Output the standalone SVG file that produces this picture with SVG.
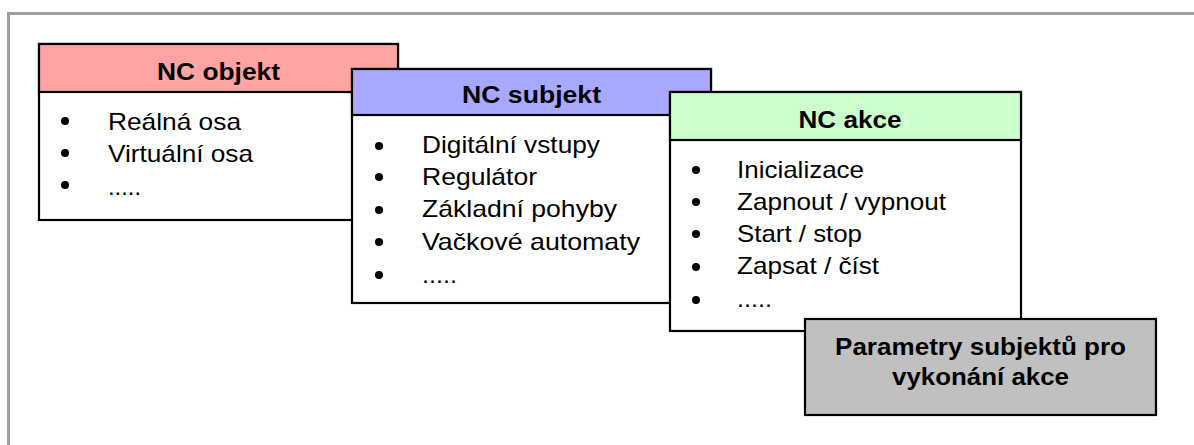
<svg xmlns="http://www.w3.org/2000/svg" width="1194" height="445" viewBox="0 0 1194 445">
<style>
.box{fill:#fff;stroke:#000;stroke-width:2.2}
.hd{stroke:#000;stroke-width:2.2}
.t{font-family:"Liberation Sans",Arial,sans-serif;font-size:24px;fill:#000}
.b{font-weight:bold}
.frame{fill:none;stroke:#a0a0a0;stroke-width:3}
</style>
<rect width="1194" height="445" fill="#fff"/>
<path class="frame" d="M8.5,445 V13.5 H1194"/>
<g id="nc-objekt">
<rect class="box" x="39" y="44" width="359" height="176"/>
<rect class="hd" x="39" y="44" width="359" height="48" fill="#ffa3a3"/>
<text class="t b" x="218.5" y="80" text-anchor="middle" textLength="123" lengthAdjust="spacingAndGlyphs">NC objekt</text>
<circle cx="65" cy="121" r="4"/><circle cx="65" cy="153" r="4"/><circle cx="65" cy="185" r="4"/>
<text class="t" x="108" y="130" textLength="133" lengthAdjust="spacingAndGlyphs">Reálná osa</text>
<text class="t" x="108" y="162" textLength="145" lengthAdjust="spacingAndGlyphs">Virtuální osa</text>
<text class="t" x="108" y="195" textLength="33" lengthAdjust="spacingAndGlyphs">.....</text>
</g>
<g id="nc-subjekt">
<rect class="box" x="352" y="69" width="359" height="234"/>
<rect class="hd" x="352" y="69" width="359" height="46" fill="#a8a8ff"/>
<text class="t b" x="531.5" y="103" text-anchor="middle" textLength="139" lengthAdjust="spacingAndGlyphs">NC subjekt</text>
<circle cx="379" cy="146" r="4"/><circle cx="379" cy="177" r="4"/><circle cx="379" cy="210" r="4"/><circle cx="379" cy="242" r="4"/><circle cx="379" cy="275" r="4"/>
<text class="t" x="422" y="153" textLength="178" lengthAdjust="spacingAndGlyphs">Digitální vstupy</text>
<text class="t" x="422" y="185" textLength="115" lengthAdjust="spacingAndGlyphs">Regulátor</text>
<text class="t" x="422" y="217" textLength="195" lengthAdjust="spacingAndGlyphs">Základní pohyby</text>
<text class="t" x="422" y="250" textLength="218" lengthAdjust="spacingAndGlyphs">Vačkové automaty</text>
<text class="t" x="422" y="283" textLength="35" lengthAdjust="spacingAndGlyphs">.....</text>
</g>
<g id="nc-akce">
<rect class="box" x="670" y="92" width="351" height="239"/>
<rect class="hd" x="670" y="92" width="351" height="48" fill="#ccffcc"/>
<text class="t b" x="850" y="128" text-anchor="middle" textLength="103" lengthAdjust="spacingAndGlyphs">NC akce</text>
<circle cx="696" cy="170" r="4"/><circle cx="696" cy="202" r="4"/><circle cx="696" cy="234" r="4"/><circle cx="696" cy="267" r="4"/><circle cx="696" cy="300" r="4"/>
<text class="t" x="737" y="178" textLength="127" lengthAdjust="spacingAndGlyphs">Inicializace</text>
<text class="t" x="737" y="210" textLength="209" lengthAdjust="spacingAndGlyphs">Zapnout / vypnout</text>
<text class="t" x="737" y="242" textLength="125" lengthAdjust="spacingAndGlyphs">Start / stop</text>
<text class="t" x="737" y="274" textLength="142" lengthAdjust="spacingAndGlyphs">Zapsat / číst</text>
<text class="t" x="737" y="307" textLength="35" lengthAdjust="spacingAndGlyphs">.....</text>
</g>
<g id="parametry">
<rect x="805" y="319" width="351" height="96" fill="#c0c0c0" stroke="#000" stroke-width="2.2"/>
<text class="t b" x="980.5" y="355" text-anchor="middle" textLength="291" lengthAdjust="spacingAndGlyphs">Parametry subjektů pro</text>
<text class="t b" x="980.5" y="385" text-anchor="middle" textLength="177" lengthAdjust="spacingAndGlyphs">vykonání akce</text>
</g>
</svg>
